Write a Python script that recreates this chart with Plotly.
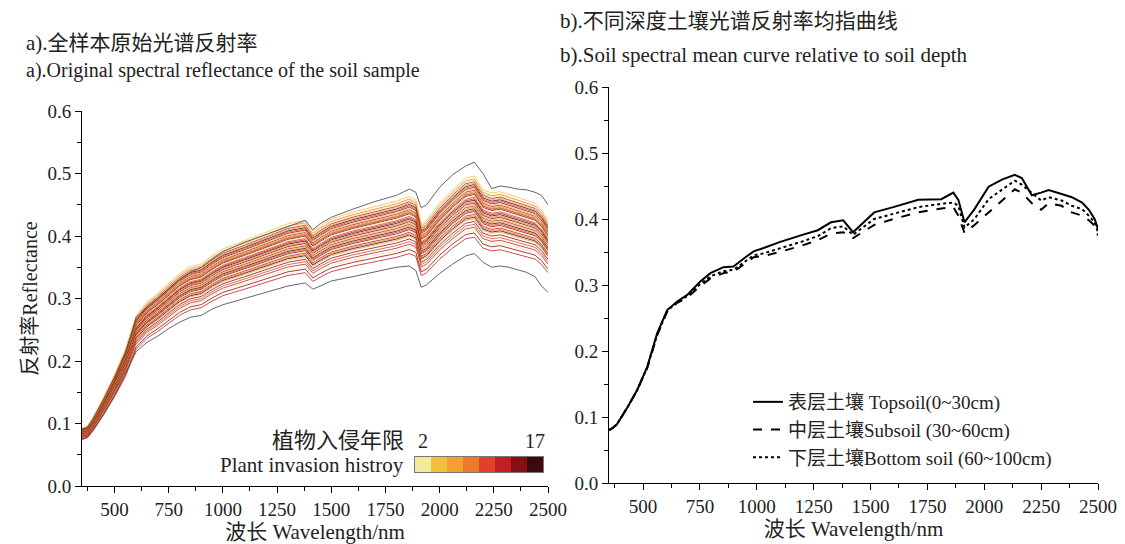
import plotly.graph_objects as go

# wavelength grid (nm) used for all spectra
wl = [350, 375, 400, 450, 500, 550, 600, 650, 700, 750, 800, 850, 900, 950, 1000,
      1100, 1200, 1300, 1380, 1415, 1450, 1500, 1600, 1700, 1800, 1860, 1890, 1915,
      1940, 2000, 2060, 2120, 2160, 2200, 2240, 2280, 2320, 2360, 2400, 2440, 2470, 2500]

# a) median sample spectrum, read off the bundle
median_refl = [0.085, 0.088, 0.100, 0.130, 0.163, 0.200, 0.250, 0.270, 0.283, 0.298, 0.312,
               0.322, 0.326, 0.338, 0.348, 0.360, 0.373, 0.385, 0.390, 0.374, 0.382, 0.392,
               0.402, 0.410, 0.418, 0.425, 0.420, 0.385, 0.390, 0.415, 0.435, 0.452, 0.455,
               0.435, 0.430, 0.432, 0.428, 0.424, 0.420, 0.415, 0.405, 0.390]
# upper-most and lower-most samples
top_refl = [0.090, 0.092, 0.102, 0.132, 0.168, 0.210, 0.270, 0.286, 0.300, 0.315, 0.330,
            0.342, 0.350, 0.363, 0.375, 0.390, 0.403, 0.415, 0.425, 0.410, 0.420, 0.430,
            0.443, 0.455, 0.465, 0.475, 0.470, 0.445, 0.450, 0.478, 0.498, 0.512, 0.518,
            0.500, 0.476, 0.480, 0.478, 0.475, 0.474, 0.470, 0.465, 0.450]
bottom_refl = [0.075, 0.080, 0.090, 0.115, 0.145, 0.180, 0.215, 0.230, 0.240, 0.252, 0.262,
               0.270, 0.273, 0.283, 0.290, 0.300, 0.310, 0.320, 0.325, 0.315, 0.320, 0.328,
               0.335, 0.342, 0.350, 0.352, 0.345, 0.318, 0.322, 0.340, 0.355, 0.368, 0.372,
               0.358, 0.350, 0.352, 0.350, 0.346, 0.342, 0.335, 0.320, 0.310]
# relative level of each remaining sample vs. the median, and its invasion-year class
sample_level = [1.09, 1.08, 1.075, 1.07, 1.065, 1.06, 1.055, 1.05, 1.045, 1.04, 1.035, 1.03,
                1.03, 1.025, 1.02, 1.015, 1.01, 1.005, 1.0, 0.995, 0.99, 0.985, 0.98, 0.975,
                0.97, 0.965, 0.96, 0.955, 0.95, 0.945, 0.94, 0.93, 0.92, 0.91, 0.90, 0.89, 0.875]
sample_class = [1, 3, 0, 5, 2, 7, 4, 6, 1, 5, 3, 7, 2, 6, 0, 4, 5, 7, 3, 6, 1, 5, 2, 7, 4,
                6, 0, 5, 3, 7, 2, 6, 4, 5, 0, 6, 5]

invasion_years = ["2", "4", "6", "8", "10", "12", "14", "17"]
year_colors = ["#f2ea9a", "#f4c03c", "#f2a030", "#ee7a28", "#e2402a", "#c41e24", "#8a0c14", "#3a0a0c"]

# b) mean spectra by depth
wl_b = [350, 365, 385, 430, 474, 518, 562, 606, 650, 694, 750, 796, 853, 897, 950, 986, 1030,
        1100, 1200, 1268, 1326, 1380, 1423, 1516, 1600, 1710, 1811, 1864, 1886, 1913, 1957,
        2019, 2080, 2134, 2165, 2209, 2250, 2283, 2340, 2385, 2430, 2460, 2485, 2500]
topsoil = [0.080, 0.083, 0.089, 0.114, 0.141, 0.176, 0.227, 0.262, 0.275, 0.285, 0.305, 0.318,
           0.327, 0.328, 0.342, 0.351, 0.356, 0.365, 0.376, 0.383, 0.395, 0.398, 0.380, 0.410,
           0.418, 0.429, 0.430, 0.440, 0.429, 0.395, 0.415, 0.449, 0.460, 0.467, 0.462, 0.436,
           0.440, 0.444, 0.438, 0.433, 0.425, 0.414, 0.400, 0.385]
subsoil = [0.080, 0.083, 0.089, 0.114, 0.141, 0.174, 0.224, 0.260, 0.273, 0.281, 0.298, 0.310,
           0.318, 0.320, 0.333, 0.342, 0.344, 0.350, 0.360, 0.368, 0.378, 0.380, 0.371, 0.391,
           0.400, 0.410, 0.416, 0.418, 0.405, 0.379, 0.391, 0.410, 0.428, 0.445, 0.440, 0.424,
           0.414, 0.424, 0.420, 0.410, 0.405, 0.398, 0.390, 0.375]
bottomsoil = [0.080, 0.083, 0.089, 0.114, 0.141, 0.175, 0.225, 0.261, 0.274, 0.283, 0.301, 0.313,
              0.321, 0.323, 0.336, 0.345, 0.348, 0.355, 0.366, 0.374, 0.386, 0.389, 0.376, 0.400,
              0.408, 0.418, 0.423, 0.425, 0.420, 0.387, 0.400, 0.430, 0.445, 0.458, 0.452, 0.440,
              0.428, 0.433, 0.428, 0.420, 0.415, 0.405, 0.395, 0.380]

font_fam = "Liberation Serif, Noto Sans CJK SC, serif"

# the page body has an 8px margin, so the figure is sized to end at the window edge
W, H, OFF = 1117, 536, 8


def px(x):
    return (x - OFF) / W


def py(y):
    return 1 - (y - OFF) / H


fig = go.Figure()

# a) individual sample spectra
for lev, cls in zip(sample_level, sample_class):
    fig.add_trace(go.Scatter(x=wl, y=[v * lev for v in median_refl], mode="lines",
                             line=dict(color=year_colors[cls], width=0.8),
                             showlegend=False, hoverinfo="skip", xaxis="x", yaxis="y"))
fig.add_trace(go.Scatter(x=wl, y=top_refl, mode="lines", line=dict(color="#555555", width=0.9),
                         showlegend=False, xaxis="x", yaxis="y"))
fig.add_trace(go.Scatter(x=wl, y=bottom_refl, mode="lines", line=dict(color="#555555", width=0.9),
                         showlegend=False, xaxis="x", yaxis="y"))

# colour key for invasion years
fig.add_trace(go.Heatmap(x=invasion_years, y=[0], z=[list(range(len(invasion_years)))],
                         colorscale=[[i / 7, c] for i, c in enumerate(year_colors)],
                         zmin=0, zmax=7, showscale=False, xaxis="x3", yaxis="y3"))

# b) depth means
fig.add_trace(go.Scatter(x=wl_b, y=topsoil, mode="lines", name="表层土壤 Topsoil(0~30cm)",
                         line=dict(color="black", width=2), xaxis="x2", yaxis="y2"))
fig.add_trace(go.Scatter(x=wl_b, y=subsoil, mode="lines", name="中层土壤Subsoil (30~60cm)",
                         line=dict(color="black", width=2, dash="dash"), xaxis="x2", yaxis="y2"))
fig.add_trace(go.Scatter(x=wl_b, y=bottomsoil, mode="lines", name="下层土壤Bottom soil (60~100cm)",
                         line=dict(color="black", width=2, dash="dot"), xaxis="x2", yaxis="y2"))

xax = dict(range=[350, 2500], tickvals=[500, 750, 1000, 1250, 1500, 1750, 2000, 2250, 2500],
           showline=True, linecolor="black", linewidth=1, ticks="outside", ticklen=6,
           tickcolor="black", showgrid=False, zeroline=False, automargin=False,
           minor=dict(dtick=125, tick0=0, ticks="outside", ticklen=4, tickcolor="black"),
           tickfont=dict(size=19, color="#222"),
           title=dict(text="波长 Wavelength/nm", font=dict(size=21, color="#222"), standoff=2))
yax = dict(range=[0, 0.6], dtick=0.1, tickformat=".1f", showline=True, linecolor="black",
           linewidth=1, ticks="outside", ticklen=6, tickcolor="black", showgrid=False,
           zeroline=False, automargin=False,
           minor=dict(dtick=0.05, ticks="outside", ticklen=4, tickcolor="black"),
           tickfont=dict(size=19, color="#222"))

fig.update_layout(
    width=W, height=H,
    margin=dict(l=0, r=0, t=0, b=0),
    paper_bgcolor="white", plot_bgcolor="white",
    font=dict(family=font_fam, color="#222"),
    xaxis=dict(xax, domain=[px(82), px(548)], anchor="y"),
    yaxis=dict(yax, domain=[py(486), py(111)], anchor="x",
               title=dict(text="反射率Reflectance", font=dict(size=20, color="#222"), standoff=4)),
    xaxis2=dict(xax, domain=[px(609), px(1098)], anchor="y2"),
    yaxis2=dict(yax, domain=[py(483), py(87)], anchor="x2"),
    xaxis3=dict(domain=[px(415), px(543)], anchor="y3", side="top", tickvals=["2", "17"],
                ticks="", showline=True, mirror=True, linecolor="#777", linewidth=1,
                tickfont=dict(size=20, color="#222"), showgrid=False, fixedrange=True,
                automargin=False),
    yaxis3=dict(domain=[py(472), py(457)], anchor="x3", showticklabels=False, ticks="",
                showline=True, mirror=True, linecolor="#777", linewidth=1, showgrid=False,
                automargin=False),
    legend=dict(x=px(748), y=py(430), xanchor="left", yanchor="middle", bgcolor="rgba(0,0,0,0)",
                font=dict(size=19, color="#222"), tracegroupgap=0, itemwidth=30),
    annotations=[
        dict(text="a).全样本原始光谱反射率", x=px(24), y=py(43), xref="paper", yref="paper",
             xanchor="left", yanchor="middle", showarrow=False, font=dict(size=21)),
        dict(text="a).Original spectral reflectance of the soil sample", x=px(24), y=py(70),
             xref="paper", yref="paper", xanchor="left", yanchor="middle", showarrow=False,
             font=dict(size=20)),
        dict(text="b).不同深度土壤光谱反射率均指曲线", x=px(558), y=py(21), xref="paper",
             yref="paper", xanchor="left", yanchor="middle", showarrow=False, font=dict(size=21)),
        dict(text="b).Soil spectral mean curve relative to soil depth", x=px(558), y=py(55),
             xref="paper", yref="paper", xanchor="left", yanchor="middle", showarrow=False,
             font=dict(size=21)),
        dict(text="植物入侵年限", x=px(406), y=py(440), xref="paper", yref="paper",
             xanchor="right", yanchor="middle", showarrow=False, font=dict(size=22)),
        dict(text="Plant invasion histroy", x=px(406), y=py(465), xref="paper",
             yref="paper", xanchor="right", yanchor="middle", showarrow=False, font=dict(size=21)),
    ],
)

fig.write_html("out.html")
